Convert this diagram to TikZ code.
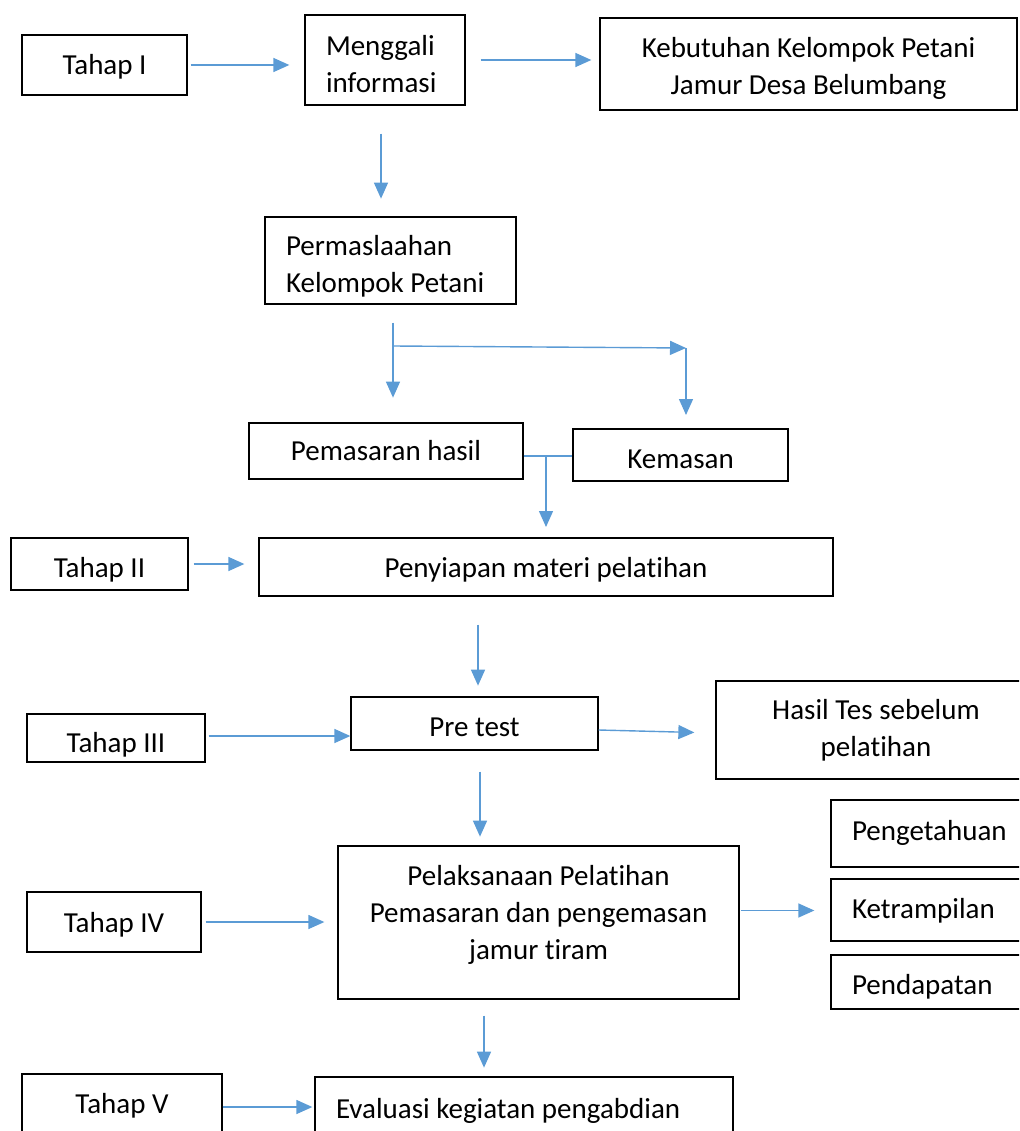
\documentclass[tikz,border=0pt]{standalone}
\usepackage{fontspec}
\setmainfont{Carlito}[Ligatures={NoCommon,NoContextual},Contextuals=NoAlternate]
\usetikzlibrary{arrows.meta}
\definecolor{arrowblue}{HTML}{5B9BD5}

\begin{document}
\begin{tikzpicture}[x=1pt,y=-1pt,
  box/.style 2 args={draw, line width=1.3pt, inner sep=0pt, minimum width=#1pt, minimum height=#2pt, font=\fontsize{29}{37}\selectfont, align=center},
  left box/.style n args={3}{box={#1}{#2}, align=flush left, inner xsep=21pt, text width=#3pt},
  arrow/.style={draw=arrowblue, line width=1.4pt, -{Triangle[length=16pt,width=14pt]}},
  link/.style={draw=arrowblue, line width=1.4pt}]
  \useasboundingbox (0,0) rectangle (1019,1131);
  \clip (0,0) rectangle (1019,1131);
  \node[box={165}{60}, text height=24pt] (tahap1) at (104.5, 65) {Tahap I};
  \node[left box={160}{90}{118}, text height=28pt] (menggali) at (385, 60) {Menggali\\informasi};
  \node[box={417}{92}, text height=65pt] (kebutuhan) at (808.5, 64) {Kebutuhan Kelompok Petani\\Jamur Desa Belumbang};
  \node[left box={251}{87}{209}, text height=32pt] (masalah) at (390.5, 260.5) {Permaslaahan\\Kelompok Petani};
  \node[box={274}{56}] (pemasaran) at (386, 451) {Pemasaran hasil};
  \node[box={215}{52}, text height=26.7pt] (kemasan) at (680.5, 455) {Kemasan};
  \node[box={177}{52}, text height=32pt] (tahap2) at (99.5, 564) {Tahap II};
  \node[box={574}{58}, text height=26pt] (penyiapan) at (546, 567) {Penyiapan materi pelatihan};
  \node[box={178}{48}, text height=34pt] (tahap3) at (116, 738) {Tahap III};
  \node[box={247}{53}, text height=26.7pt] (pretest) at (474.5, 723.5) {Pre test};
  \node[box={320}{98}] (hasil) at (876, 730) {Hasil Tes sebelum\\pelatihan};
  \node[box={174}{60}, text height=26pt] (tahap4) at (114, 922) {Tahap IV};
  \node[box={401}{153}, text height=78pt] (pelaksanaan) at (538.5, 922.5) {Pelaksanaan Pelatihan\\Pemasaran dan pengemasan\\jamur tiram};
  \node[left box={220}{67}{178}, text height=18pt] (pengetahuan) at (941, 833.5) {Pengetahuan};
  \node[left box={220}{62}{178}, text height=22pt] (ketrampilan) at (941, 910) {Ketrampilan};
  \node[left box={220}{54}{178}, text height=30pt] (pendapatan) at (941, 982) {Pendapatan};
  \node[box={200}{64}] (tahap5) at (122, 1106) {Tahap V};
  \node[left box={418}{63}{376}, text height=24pt] (evaluasi) at (524, 1108.5) {Evaluasi kegiatan pengabdian};
  \coordinate (split) at (393, 346);
  \coordinate (corner) at (686, 348);
  \coordinate (join) at (546, 456);
  \draw[arrow, shorten <=3pt, shorten >=15pt] (tahap1.east) -- (tahap1.east -| menggali.west);
  \draw[arrow, shorten <=15pt, shorten >=8pt] (menggali.east) -- (menggali.east -| kebutuhan.west);
  \draw[arrow] ([xshift=-4pt,yshift=-28pt]menggali.south) -- ++(0,65);
  \draw[arrow] ([xshift=2.5pt,yshift=-18pt]masalah.south) -- ++(0,75);
  \draw[arrow] (split) -- (corner);
  \draw[arrow] (corner) -- ++(0,67);
  \draw[link] (pemasaran.east |- join) -- (kemasan.west |- join);
  \draw[arrow] (join) -- ++(0,71);
  \draw[arrow, shorten <=5pt, shorten >=14pt] (tahap2.east) -- (tahap2.east -| penyiapan.west);
  \draw[arrow] ([xshift=-68pt,yshift=-28pt]penyiapan.south) -- ++(0,61);
  \draw[arrow, shorten <=3pt] ([yshift=2pt]tahap3.east) -- ([yshift=2pt]tahap3.east -| pretest.west);
  \draw[arrow, shorten >=21pt] ([yshift=-6.5pt]pretest.east) -- ([yshift=-9.5pt]pretest.east -| hasil.west);
  \draw[arrow] ([xshift=5.5pt,yshift=-21pt]pretest.south) -- ++(0,65);
  \draw[arrow, shorten <=4pt, shorten >=13pt] (tahap4.east) -- (tahap4.east -| pelaksanaan.west);
  \draw[arrow, shorten <=1pt, shorten >=16pt] ([yshift=12pt]pelaksanaan.east) -- ([yshift=12pt]pelaksanaan.east -| ketrampilan.west);
  \draw[arrow] ([xshift=-54.5pt,yshift=-16pt]pelaksanaan.south) -- ++(0,52);
  \draw[arrow, shorten >=2pt] ([yshift=-1pt]tahap5.east) -- ([yshift=-1pt]tahap5.east -| evaluasi.west);
\end{tikzpicture}
\end{document}
